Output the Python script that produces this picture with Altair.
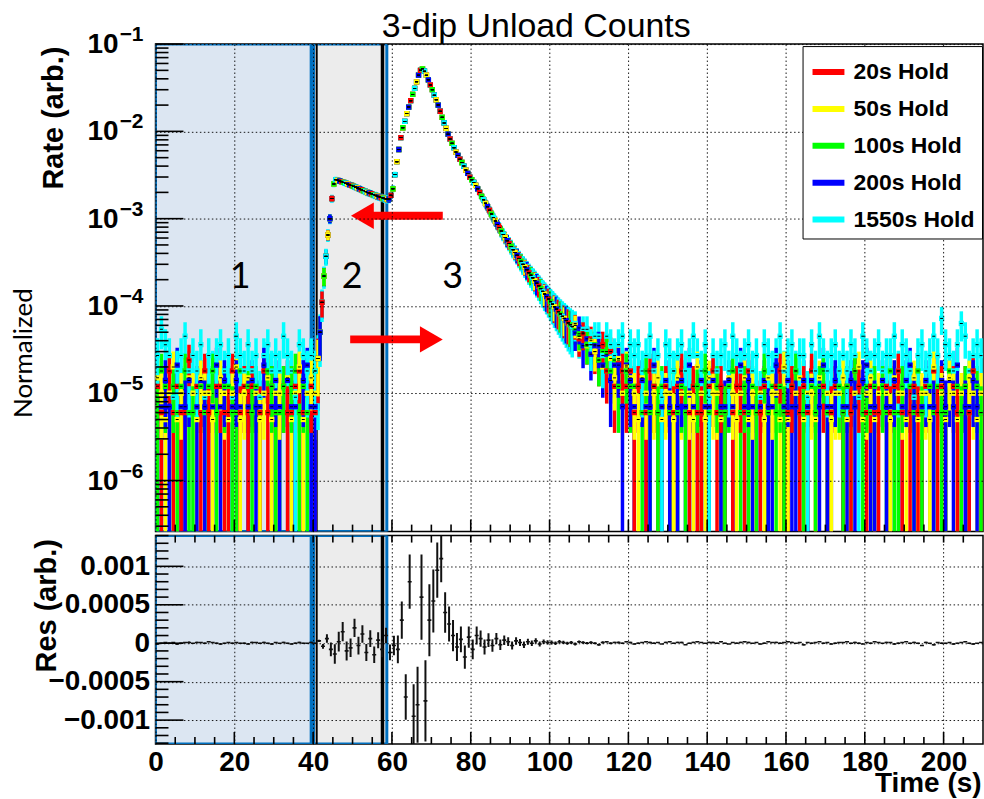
import math
import altair as alt
import pandas as pd

# ---------------- data ----------------
SERIES = ["20s Hold", "50s Hold", "100s Hold", "200s Hold", "1550s Hold"]
COLORS = ["#ff0000", "#ffff00", "#00ff00", "#0000ff", "#00ffff"]
COUNT_UNIT = [6e-6, 5e-6, 6e-6, 7e-6, 9e-6]   # normalized rate of one count in a 1 s bin

# counts in 1 s bins 0..40 (before the unload)
pre_20s = [2,1,0,3,1,2,1,1,4,0,2,1,3,1,0,2,2,1,1,3,0,1,2,1,2,0,1,3,1,2,1,0,2,1,1,2,3,1,0,2,1]
pre_50s = [3,2,1,2,4,1,2,0,3,2,1,3,2,2,1,0,3,2,1,2,4,1,2,3,0,2,1,2,3,1,2,2,0,3,1,2,4,1,2,3,2]
pre_100s = [1,3,2,0,2,1,2,3,1,1,0,2,1,2,3,1,0,2,2,1,1,3,0,2,1,2,1,0,3,2,1,1,2,0,2,3,1,2,1,0,3]
pre_200s = [0,1,2,1,0,3,1,1,2,0,1,2,1,0,1,3,1,2,0,1,2,1,0,1,2,1,1,3,0,1,2,1,0,2,1,1,0,2,3,1,1]
pre_1550s = [3,6,4,3,1,2,3,5,2,3,2,4,1,3,2,3,4,2,3,1,5,3,2,4,2,3,1,3,4,2,3,2,5,3,2,1,4,3,2,3,2]

# normalized rate in 0.5 s bins from 41 s to 106 s (all holds overlap here)
signal_rate = [
    2.5e-5, 5e-5, 1.1e-4, 2.2e-4, 3.7e-4, 6.5e-4, 1.0e-3, 1.7e-3, 2.5e-3, 2.8e-3,
    2.75e-3, 2.7e-3, 2.65e-3, 2.6e-3, 2.55e-3, 2.5e-3, 2.45e-3, 2.4e-3, 2.35e-3, 2.3e-3,
    2.25e-3, 2.2e-3, 2.15e-3, 2.1e-3, 2.05e-3, 2.0e-3, 1.97e-3, 1.93e-3, 1.89e-3, 1.85e-3,
    1.81e-3, 1.78e-3, 1.75e-3, 1.72e-3, 1.69e-3, 1.67e-3, 1.68e-3, 1.85e-3, 2.2e-3, 3.2e-3,
    4.5e-3, 6.2e-3, 8.5e-3, 1.1e-2, 1.3e-2, 1.6e-2, 1.9e-2, 2.25e-2, 2.65e-2, 3.1e-2,
    3.7e-2, 4.4e-2, 5.0e-2, 5.2e-2, 4.9e-2, 4.4e-2, 3.9e-2, 3.4e-2, 3.0e-2, 2.6e-2,
    2.3e-2, 2.0e-2, 1.7e-2, 1.45e-2, 1.25e-2, 1.08e-2, 9.3e-3, 8.2e-3, 7.3e-3, 6.5e-3,
    5.8e-3, 5.3e-3, 4.8e-3, 4.4e-3, 4.0e-3, 3.6e-3, 3.3e-3, 3.0e-3, 2.8e-3, 2.6e-3,
    2.4e-3, 2.2e-3, 2.0e-3, 1.8e-3, 1.65e-3, 1.5e-3, 1.37e-3, 1.25e-3, 1.13e-3, 1.03e-3,
    9.4e-4, 8.6e-4, 7.9e-4, 7.2e-4, 6.6e-4, 6.1e-4, 5.6e-4, 5.2e-4, 4.8e-4, 4.4e-4,
    4.1e-4, 3.8e-4, 3.5e-4, 3.25e-4, 3.0e-4, 2.8e-4, 2.6e-4, 2.4e-4, 2.25e-4, 2.1e-4,
    1.95e-4, 1.82e-4, 1.7e-4, 1.58e-4, 1.47e-4, 1.37e-4, 1.28e-4, 1.2e-4, 1.12e-4, 1.05e-4,
    9.8e-5, 9.2e-5, 8.6e-5, 8.1e-5, 7.6e-5, 7.2e-5, 6.8e-5, 6.4e-5, 6.1e-5, 5.8e-5,
]

# counts in the tail, 1 s bins 106..120
tail_20s = [10,7,8,6,7,5,4,6,3,5,2,4,3,2,3]
tail_50s = [12,9,10,7,8,6,7,4,6,5,3,5,2,4,3]
tail_100s = [9,8,8,6,6,6,4,5,5,3,4,2,3,3,2]
tail_200s = [7,8,5,6,4,5,5,3,4,2,3,3,1,3,2]
tail_1550s = [7,5,6,6,4,5,5,3,5,4,3,4,5,2,4]

# background counts, 1 s bins 121..209
post_20s = [1,2,0,1,3,2,1,0,2,1, 1,2,3,0,1,2,1,1,0,2, 3,1,2,1,0,1,2,2,1,3, 0,1,1,2,1,0,2,3,1,1,
            2,0,1,2,1,3,1,0,2,1, 1,2,0,1,2,1,3,2,0,1, 2,1,1,0,2,1,2,3,1,0, 1,2,1,1,2,0,3,1,2,1,
            0,2,1,1,2,1,3,0,1]
post_50s = [2,1,3,2,0,2,3,1,2,2, 1,3,2,0,2,1,4,2,1,3, 2,2,1,0,3,2,1,2,3,1, 2,0,2,1,3,2,2,1,4,1,
            0,2,3,1,2,2,1,3,0,2, 1,2,2,3,1,0,2,4,1,2, 3,1,2,0,2,1,3,2,2,1, 0,3,1,2,2,1,4,0,2,1,
            3,2,1,2,0,3,2,1,2]
post_100s = [2,0,1,3,1,2,1,2,0,1, 3,1,2,1,0,2,2,1,3,1, 0,2,1,1,2,3,0,1,2,1, 2,1,0,3,1,2,1,2,1,0,
             2,3,1,1,0,2,1,2,3,1, 1,0,2,1,2,1,3,0,1,2, 1,2,0,2,1,3,1,1,2,0, 2,1,3,1,0,2,1,2,1,1,
             3,0,2,1,2,1,0,2,1]
post_200s = [1,0,2,1,1,3,0,1,2,1, 0,1,2,1,3,1,0,2,1,1, 2,0,1,1,2,1,0,3,1,2, 1,0,1,2,1,1,3,0,1,2,
             1,1,0,2,1,2,0,1,3,1, 1,2,0,1,1,2,1,0,2,3, 1,1,0,2,1,1,2,0,1,2, 3,1,0,1,2,1,1,0,2,1,
             2,1,3,0,1,1,2,1,0]
post_1550s = [3,4,2,3,5,2,3,1,4,3, 2,3,4,2,3,5,3,2,4,1, 3,2,3,4,2,5,3,2,3,4, 2,3,1,4,3,2,3,5,2,3,
              4,2,3,3,1,4,2,5,3,2, 3,4,2,3,2,4,3,1,5,3, 2,3,4,2,3,3,5,2,4,3, 2,1,3,4,2,3,5,3,8,4,
              3,2,4,7,5,2,3,4,3]

# fit residual of the 20s hold, in units of 1e-5, 1 s bins 0..209
residual_1e5 = ([-1,0,1,0,1,-1,0,1,1,0, 1,1,0,2,1,0,-1,0,1,0, 1,0,0,-1,1,1,0,1,0,-1,
                 1,0,1,0,-1,0,1,0,0,1, 0]
                + [3,-4,6,-8,-14,2,15,-10,-6,20,-3,12,-12,6,-15,4,-8,10]
                + [-12,-3,-8,30,-70,80,-95,-80,60,-75,30,55,95,110,40,25,10,-5,5,-18,
                   8,-8,10,6,-5,4,-3,6,-2,4,2,-3,3,1,-2,2,0,3,-1,2,1]
                + [1,0,2,1,0,1,-1,2,1,0, 1,0,-2,1,2,0,1,1,0,2, 1,-1,0,1,2,1,0,1,-1,1,
                   2,0,1,1,-2,0,1,2,1,0, 1,1,0,2,0,-1,1,0,1,2, 1,0,1,-1,0,2,1,1,0,1,
                   2,1,0,1,-2,1,0,1,2,0, 1,-1,0,1,1,2,0,1,0,-1, 1,0,2,1,0,1,1,-1,0,1,
                   2,0,1,0,-3,1,0,-2,1,0, 0,1,-1,0,1,2,0,-1,0,1])

x_ticks = [0, 20, 40, 60, 80, 100, 120, 140, 160, 180, 200]
x_minor_step = 5
y_ticks = [1e-6, 1e-5, 1e-4, 1e-3, 1e-2, 1e-1]
y_tick_base = ["10", "10", "10", "10", "10", "10"]
y_tick_exponent = ["−6", "−5", "−4", "−3", "−2", "−1"]
res_ticks = [-0.001, -0.0005, 0, 0.0005, 0.001]
res_tick_labels = ["−0.001", "−0.0005", "0", "0.0005", "0.001"]
res_minor_step = 0.0001

# annotation content
regions = pd.DataFrame({"t0": [0.0, 40.1], "t1": [39.5, 58.7], "fill": ["#dce6f2", "#ececec"]})
dividers = pd.DataFrame({"t": [40.9, 57.6], "w": [2.0, 3.5]})
region_labels = pd.DataFrame({"t": [21.5, 49.9, 75.4], "rate": [2.17e-4, 2.17e-4, 2.17e-4],
                              "txt": ["1", "2", "3"]})
arrow_shafts = pd.DataFrame({"t0": [52.5, 49.4], "t1": [72.9, 70.0], "rate": [1.08e-3, 4.14e-5]})
arrow_heads = pd.DataFrame({"t": [52.5, 70.0], "rate": [1.08e-3, 4.14e-5],
                            "shape": ["triangle-left", "triangle-right"]})

# ---------------- assemble tables ----------------
pre = [pre_20s, pre_50s, pre_100s, pre_200s, pre_1550s]
tail = [tail_20s, tail_50s, tail_100s, tail_200s, tail_1550s]
post = [post_20s, post_50s, post_100s, post_200s, post_1550s]
for arr in pre:
    assert len(arr) == 41
for arr in tail:
    assert len(arr) == 15
for arr in post:
    assert len(arr) == 89
assert len(signal_rate) == 130 and len(residual_1e5) == 210

YMIN, YMAX = 2.6e-7, 0.1
RMIN, RMAX = -0.00131, 0.0014
XMAX = 210
W, H_TOP, H_BOT = 830, 489, 209
PX_T = W / XMAX
PX_DEC = H_TOP / math.log10(YMAX / YMIN)
PX_R = H_BOT / (RMAX - RMIN)

bins = []
for b in range(41):
    bins.append((b + 0.5, 1.0, ("pre", b)))
for i in range(130):
    bins.append((41.25 + 0.5 * i, 0.5, ("sig", i)))
for b in range(106, 121):
    bins.append((b + 0.5, 1.0, ("tail", b - 106)))
for b in range(121, 210):
    bins.append((b + 0.5, 1.0, ("post", b - 121)))


def hold_value(k, src, width):
    unit = COUNT_UNIT[k] / width          # rate carried by one count in this bin
    kind, i = src
    if kind == "sig":
        r = signal_rate[i]
        return r, r / unit, unit
    n = {"pre": pre, "tail": tail, "post": post}[kind][k][i]
    return n * unit, n, unit


rows = []
for j, (t, w, src) in enumerate(bins):
    order = [(q + 2 * j) % 5 for q in range(5)]   # vary which hold is drawn on top
    for k in order:
        r, n, unit = hold_value(k, src, w)
        if r <= 0:
            continue
        s = math.sqrt(n) * unit
        rows.append({"t": t, "series": SERIES[k], "rate": r,
                     "lo": max(r - s, YMIN), "hi": min(r + s, YMAX)})
data = pd.DataFrame(rows)

red_rate_1s = {}
for t, w, src in bins:
    r, _, _ = hold_value(0, src, w)
    key = int(math.floor(t))
    red_rate_1s[key] = red_rate_1s.get(key, 0.0) + r * w
res_rows = []
for b in range(210):
    n = red_rate_1s[b] / COUNT_UNIT[0]
    s = math.sqrt(n) * COUNT_UNIT[0]
    v = residual_1e5[b] * 1e-5
    res_rows.append({"t": b + 0.5, "res": v, "lo": v - s, "hi": v + s})
res = pd.DataFrame(res_rows)

# ROOT-style inward ticks (positions follow the axis tick values)
MAJOR_LEN, MINOR_LEN, XMAJ_LEN, XMIN_LEN = 28, 13, 12, 7
tl = []
for d in range(-7, 0):
    for m in range(1, 10):
        v = m * 10.0 ** d
        if YMIN <= v <= YMAX * 1.0001:
            tl.append({"tv": v, "ta": 0.0, "tb": (MAJOR_LEN if m == 1 else MINOR_LEN) / PX_T})
top_left_ticks = pd.DataFrame(tl)
x_tick_pos = list(range(x_minor_step, XMAX, x_minor_step))
top_bottom_ticks = pd.DataFrame(
    [{"tt": float(t), "va": YMIN,
      "vb": YMIN * 10 ** ((XMAJ_LEN if t % 20 == 0 else XMIN_LEN) / PX_DEC)} for t in x_tick_pos])
bl = []
k = math.ceil(RMIN / res_minor_step)
while k * res_minor_step <= RMAX:
    v = round(k * res_minor_step, 6)
    major = abs(round(v / 0.0005) * 0.0005 - v) < 1e-9
    bl.append({"tv": v, "ta": 0.0, "tb": (MAJOR_LEN if major else MINOR_LEN) / PX_T})
    k += 1
bot_left_ticks = pd.DataFrame(bl)
be = []
for t in x_tick_pos:
    ln = (XMAJ_LEN if t % 20 == 0 else XMIN_LEN) / PX_R
    be.append({"tt": float(t), "va": RMIN, "vb": RMIN + ln})
    be.append({"tt": float(t), "va": RMAX - XMIN_LEN / PX_R, "vb": RMAX})
bot_edge_ticks = pd.DataFrame(be)

y_label_df = pd.DataFrame({"v": y_ticks, "base": y_tick_base, "exp": y_tick_exponent})


def label_expr(values, labels):
    parts = []
    for i in range(len(values) - 1):
        t = (values[i] + values[i + 1]) / 2
        parts.append(f"datum.value < {t!r} ? '{labels[i]}' : ")
    return "".join(parts) + f"'{labels[-1]}'"


# ---------------- chart ----------------
FONT = "Liberation Sans"
grid_kw = dict(grid=True, gridColor="#000000", gridDash=[1.5, 2.5], gridWidth=1, gridOpacity=0.9)

xs = alt.Scale(domain=[0, XMAX], nice=False, zero=False)
ys = alt.Scale(type="log", domain=[YMIN, YMAX], nice=False)
rs = alt.Scale(domain=[RMIN, RMAX], nice=False, zero=False)

x_top_axis = alt.Axis(values=x_ticks, labels=False, ticks=False, domain=False, title=None,
                      zindex=1, **grid_kw)
y_top_axis = alt.Axis(values=y_ticks, labels=False, ticks=False, domain=False,
                      title="Rate (arb.)", titleFont=FONT, titleFontSize=29,
                      titleFontWeight="bold", titleColor="black", titleAngle=270,
                      titleAlign="right", titleBaseline="alphabetic", titleX=-93, titleY=2,
                      zindex=1, **grid_kw)
x_bot_axis = alt.Axis(values=x_ticks, ticks=False, domain=False, labelFont=FONT,
                      labelFontSize=28, labelFontWeight="bold", labelColor="black",
                      labelPadding=5, labelFlush=False, labelOverlap=False,
                      title="Time (s)", titleFont=FONT, titleFontSize=28, titleFontWeight="bold",
                      titleColor="black", titleAlign="right", titleBaseline="alphabetic",
                      titleX=828, titleY=48, zindex=1, **grid_kw)
y_bot_axis = alt.Axis(values=res_ticks, labelExpr=label_expr(res_ticks, res_tick_labels),
                      ticks=False, domain=False, labelFont=FONT, labelFontSize=28,
                      labelFontWeight="bold", labelColor="black", labelPadding=6,
                      labelFlush=False, labelOverlap=False,
                      title="Res (arb.)", titleFont=FONT, titleFontSize=29,
                      titleFontWeight="bold", titleColor="black", titleAngle=270,
                      titleAlign="right", titleBaseline="alphabetic", titleX=-100, titleY=3,
                      zindex=1, **grid_kw)

color = alt.Color("series:N", scale=alt.Scale(domain=SERIES, range=COLORS),
                  legend=alt.Legend(orient="none", legendX=649, legendY=2, title=None,
                                    symbolType="stroke", symbolStrokeWidth=6, symbolSize=1024,
                                    labelFont=FONT, labelFontSize=23, labelFontWeight="bold",
                                    labelColor="black", labelOffset=6, padding=7, rowPadding=6,
                                    strokeColor="black", fillColor="white", zindex=2))


def region_layers(x_axis):
    rect = alt.Chart(regions).mark_rect(stroke="#0070c0", strokeWidth=3, clip=True).encode(
        x=alt.X("t0:Q", scale=xs, axis=x_axis),
        x2="t1:Q",
        fill=alt.Fill("fill:N", scale=None),
    )
    div = alt.Chart(dividers).mark_rule(color="black", clip=True).encode(
        x=alt.X("t:Q", scale=xs),
        strokeWidth=alt.StrokeWidth("w:Q", scale=None),
    )
    return [rect, div]


def normalized_text(opacity, y):
    return alt.Chart(pd.DataFrame({"txt": ["Normalized"]})).mark_text(
        font="Lato", fontSize=26, color="black", angle=270, align="center",
        baseline="middle", opacity=opacity
    ).encode(x=alt.value(-132), y=alt.value(y), text="txt:N")


def hticks(df, yscale):
    return alt.Chart(df).mark_rule(stroke="#000000", strokeWidth=1.6, opacity=1).encode(
        x=alt.X("ta:Q", scale=xs), x2=alt.X2("tb:Q"), y=alt.Y("tv:Q", scale=yscale))


def vticks(df, yscale):
    return alt.Chart(df).mark_rule(stroke="#000000", strokeWidth=1.6, opacity=1).encode(
        x=alt.X("tt:Q", scale=xs), y=alt.Y("va:Q", scale=yscale), y2=alt.Y2("vb:Q"))


top_layers = region_layers(x_top_axis)
top_layers += [
    alt.Chart(data).mark_rule(strokeWidth=3.5, clip=True).encode(
        x=alt.X("t:Q", scale=xs),
        y=alt.Y("lo:Q", scale=ys, axis=y_top_axis),
        y2="hi:Q",
        color=color,
    ),
    alt.Chart(data).mark_square(size=28, opacity=1, clip=True).encode(
        x=alt.X("t:Q", scale=xs),
        y=alt.Y("rate:Q", scale=ys),
        color=alt.Color("series:N", scale=alt.Scale(domain=SERIES, range=COLORS), legend=None),
    ),
    alt.Chart(data).mark_tick(orient="horizontal", size=3, thickness=1, color="black",
                              opacity=1, clip=True).encode(
        x=alt.X("t:Q", scale=xs),
        y=alt.Y("rate:Q", scale=ys),
    ),
    hticks(top_left_ticks, ys),
    vticks(top_bottom_ticks, ys),
    alt.Chart(arrow_shafts).mark_rule(color="#ff0000", strokeWidth=8).encode(
        x=alt.X("t0:Q", scale=xs), x2="t1:Q", y=alt.Y("rate:Q", scale=ys),
    ),
    alt.Chart(arrow_heads).mark_point(filled=True, size=700, color="#ff0000", opacity=1,
                                      strokeWidth=0).encode(
        x=alt.X("t:Q", scale=xs), y=alt.Y("rate:Q", scale=ys),
        shape=alt.Shape("shape:N", scale=None),
    ),
    alt.Chart(region_labels).mark_text(font="Lato", fontSize=36, color="black",
                                       baseline="middle", align="center").encode(
        x=alt.X("t:Q", scale=xs), y=alt.Y("rate:Q", scale=ys), text="txt:N",
    ),
    alt.Chart(y_label_df).mark_text(font=FONT, fontSize=28, fontWeight="bold", color="black",
                                    align="right", baseline="middle", dy=1).encode(
        x=alt.value(-37), y=alt.Y("v:Q", scale=ys), text="base:N"),
    alt.Chart(y_label_df).mark_text(font=FONT, fontSize=21, fontWeight="bold", color="black",
                                    align="left", baseline="middle", dy=-9).encode(
        x=alt.value(-36), y=alt.Y("v:Q", scale=ys), text="exp:N"),
    normalized_text(1, 310),
    alt.Chart(pd.DataFrame({"txt": ["3-dip Unload Counts"]})).mark_text(
        font=FONT, fontSize=34, color="black", align="left", baseline="alphabetic"
    ).encode(x=alt.value(227), y=alt.value(-7), text="txt:N"),
]

top = alt.layer(*top_layers).properties(width=W, height=H_TOP)

bot_layers = region_layers(x_bot_axis)
bot_layers += [
    alt.Chart(res).mark_rule(strokeWidth=2, color="#111111", clip=True).encode(
        x=alt.X("t:Q", scale=xs),
        y=alt.Y("lo:Q", scale=rs, axis=y_bot_axis),
        y2="hi:Q",
    ),
    alt.Chart(res).mark_tick(orient="horizontal", size=4, thickness=1.6, color="#111111",
                             opacity=1, clip=True).encode(
        x=alt.X("t:Q", scale=xs),
        y=alt.Y("res:Q", scale=rs),
    ),
    hticks(bot_left_ticks, rs),
    vticks(bot_edge_ticks, rs),
    normalized_text(0, 100),   # invisible twin keeps both panels' left edges aligned
]
bottom = alt.layer(*bot_layers).properties(width=W, height=H_BOT)

chart = alt.vconcat(top, bottom, spacing=0).properties(
    padding={"left": 10, "top": 8, "right": 0, "bottom": 0},
    background="white",
).configure_view(stroke="black", strokeWidth=1.5)

chart.save("out.html", embed_options={"renderer": "svg", "actions": False})
